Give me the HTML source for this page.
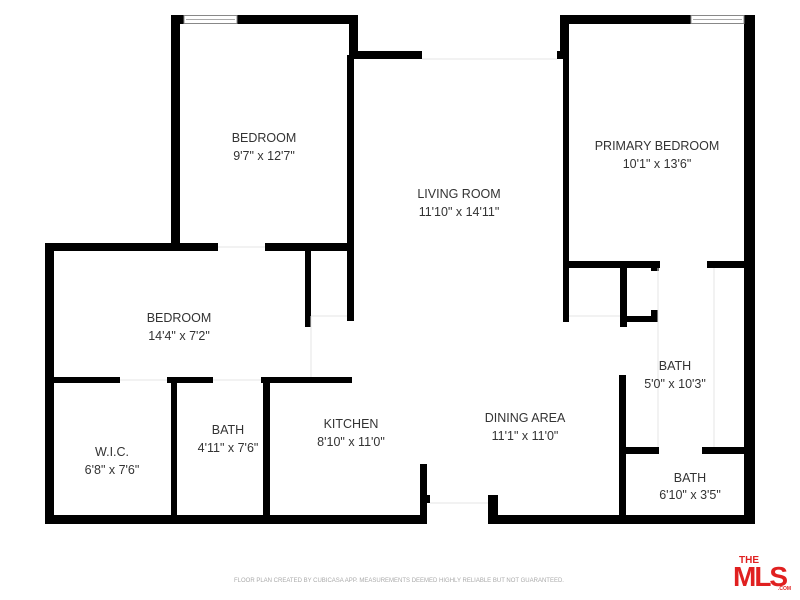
<!DOCTYPE html>
<html><head><meta charset="utf-8"><style>
html,body{margin:0;padding:0;background:#fff;}
svg{display:block;}
text{font-family:"Liberation Sans",sans-serif;fill:#333;}
</style></head><body>
<svg width="800" height="600" viewBox="0 0 800 600" xmlns="http://www.w3.org/2000/svg">
<g fill="#000">
<!-- top bedroom -->
<rect x="171" y="15" width="9" height="236"/>
<rect x="171" y="15" width="187" height="9"/>
<rect x="349" y="15" width="9" height="44"/>
<rect x="349" y="51" width="73" height="8"/>
<rect x="347" y="55" width="7" height="266"/>
<rect x="45" y="243" width="173" height="8"/>
<rect x="265" y="243" width="89" height="8"/>
<rect x="305" y="251" width="6" height="76"/>
<!-- left outer -->
<rect x="45" y="243" width="9" height="281"/>
<rect x="45" y="515" width="382" height="9"/>
<!-- inner walls -->
<rect x="54" y="377" width="66" height="6"/>
<rect x="167" y="377" width="46" height="6"/>
<rect x="261" y="377" width="91" height="6"/>
<rect x="171" y="377" width="6" height="143"/>
<rect x="263" y="377" width="7" height="143"/>
<rect x="420" y="464" width="7" height="60"/>
<rect x="420" y="495" width="10" height="8"/>
<rect x="488" y="495" width="10" height="29"/>
<rect x="490" y="515" width="265" height="9"/>
<!-- primary -->
<rect x="560" y="15" width="9" height="44"/>
<rect x="563" y="15" width="6" height="307"/>
<rect x="560" y="15" width="131" height="9"/>
<rect x="744" y="15" width="11" height="509"/>
<rect x="557" y="51" width="6" height="8"/>
<rect x="563" y="261" width="97" height="7"/>
<rect x="651" y="261" width="8" height="10"/>
<rect x="707" y="261" width="41" height="7"/>
<rect x="620" y="268" width="7" height="59"/>
<rect x="620" y="316" width="38" height="6"/>
<rect x="651" y="310" width="7" height="12"/>
<rect x="619" y="375" width="7" height="149"/>
<rect x="619" y="447" width="40" height="7"/>
<rect x="702" y="447" width="46" height="7"/>
</g>
<!-- windows -->
<rect x="184" y="15.5" width="53" height="8" fill="#fff" stroke="#888" stroke-width="1"/>
<line x1="186" y1="19.5" x2="235" y2="19.5" stroke="#aaa"/>
<rect x="691" y="15.5" width="53" height="8" fill="#fff" stroke="#888" stroke-width="1"/>
<line x1="693" y1="19.5" x2="742" y2="19.5" stroke="#aaa"/>
<!-- thin lines -->
<g stroke="#e4e4e4" stroke-width="1">
<line x1="422" y1="59" x2="557" y2="59"/>
<line x1="311" y1="316" x2="347" y2="316"/>
<line x1="311" y1="316" x2="311" y2="377"/>
<line x1="569" y1="316" x2="620" y2="316"/>
<line x1="658" y1="268" x2="658" y2="447"/>
<line x1="714" y1="268" x2="714" y2="447"/>
<line x1="430" y1="503" x2="488" y2="503"/>
<line x1="120" y1="380" x2="167" y2="380"/>
<line x1="213" y1="380" x2="261" y2="380"/>
<line x1="218" y1="247" x2="265" y2="247"/>
</g>
<g font-size="12.5" text-anchor="middle">
<text x="264" y="142">BEDROOM</text><text x="264" y="160">9'7" x 12'7"</text>
<text x="459" y="198">LIVING ROOM</text><text x="459" y="216">11'10" x 14'11"</text>
<text x="657" y="150">PRIMARY BEDROOM</text><text x="657" y="168">10'1" x 13'6"</text>
<text x="179" y="322">BEDROOM</text><text x="179" y="340">14'4" x 7'2"</text>
<text x="112" y="456">W.I.C.</text><text x="112" y="474">6'8" x 7'6"</text>
<text x="228" y="434">BATH</text><text x="228" y="452">4'11" x 7'6"</text>
<text x="351" y="428">KITCHEN</text><text x="351" y="446">8'10" x 11'0"</text>
<text x="525" y="422">DINING AREA</text><text x="525" y="440">11'1" x 11'0"</text>
<text x="675" y="370">BATH</text><text x="675" y="388">5'0" x 10'3"</text>
<text x="690" y="482">BATH</text><text x="690" y="499">6'10" x 3'5"</text>
</g>
<text x="399" y="582" font-size="6" fill="#aaa" text-anchor="middle" style="fill:#aaa">FLOOR PLAN CREATED BY CUBICASA APP. MEASUREMENTS DEEMED HIGHLY RELIABLE BUT NOT GUARANTEED.</text>
<g style="fill:#e02020" fill="#e02020" font-weight="bold">
<text x="739" y="563" font-size="10" style="fill:#e02020">THE</text>
<text x="733" y="586" font-size="28" style="fill:#e02020;letter-spacing:-2px">MLS</text>
<text x="778" y="590" font-size="5" style="fill:#e02020">.COM</text>
</g>
</svg>
</body></html>
